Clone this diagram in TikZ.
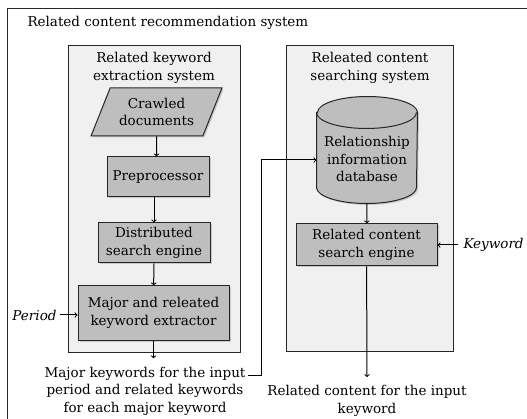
\documentclass[tikz,border=0pt]{standalone}
\usepackage{fontspec}
\setmainfont{DejaVu Serif}
\usetikzlibrary{positioning,shapes.geometric,shadows}
\definecolor{panelgray}{HTML}{F0F0F0}
\definecolor{boxgray}{HTML}{BEBEBE}
\begin{document}
\begin{tikzpicture}[x=1pt,y=-1pt,font=\fontsize{13.5}{17.5}\selectfont,
  panel/.style={draw=black!85,fill=panelgray},
  box/.style={draw=black!85,fill=boxgray,align=center,inner sep=2pt,
    drop shadow={shadow xshift=1.5pt,shadow yshift=-1.5pt,opacity=0.35}},
  label/.style={align=center,inner sep=0pt},
  every path/.style={line width=1pt}]
  \useasboundingbox (0,0) rectangle (527,419);
  \draw[black!85] (527,9) -- (7,9) -- (7,419);
  \node[anchor=west,inner sep=0pt](title) at (27,23){Related content recommendation system};

  \node[panel,minimum width=172pt,minimum height=306pt](kwsys) at (154,199){};
  \node[label](kwtitle) at (154,68){Related keyword\\extraction system};
  \node[box,trapezium,trapezium left angle=63,trapezium right angle=117,trapezium stretches=true,
    minimum width=131pt,minimum height=48pt](crawled) at (156.5,112){Crawled\\documents};
  \node[box,minimum width=102pt,minimum height=40pt](prep) at (158,177){Preprocessor};
  \node[box,minimum width=112pt,minimum height=40pt](dist) at (154,243){Distributed\\search engine};
  \node[box,minimum width=151pt,minimum height=54pt](extr) at (153.5,313){Major and releated\\keyword extractor};
  \node[label,anchor=east](period) at (57,315){\itshape Period};
  \node[label](kwout) at (145,391){Major keywords for the input\\period and related keywords\\for each major keyword};

  \node[panel,minimum width=167pt,minimum height=305pt](rcsys) at (369.5,198.5){};
  \node[label](rctitle) at (370,68){Releated content\\searching system};
  \node[minimum width=100pt,minimum height=106pt,inner sep=0pt](db) at (367,150){};
  \path[box]([yshift=-16pt]db.north west)--([yshift=16pt]db.south west)
    arc[start angle=180,end angle=360,x radius=50pt,y radius=16pt]--([yshift=-16pt]db.north east)
    arc[start angle=0,end angle=180,x radius=50pt,y radius=16pt]--cycle;
  \draw[black!85]([yshift=-16pt]db.north west) arc[start angle=180,end angle=360,x radius=50pt,y radius=16pt];
  \node[label](dbtext) at (367,159){Relationship\\information\\database};
  \node[box,minimum width=141pt,minimum height=42pt](seng) at (366.5,245){Related content\\search engine};
  \node[label,anchor=west](keyword) at (463,245){\itshape Keyword};
  \node[label](rcout) at (367,401){Related content for the input\\keyword};

  \draw[->](crawled)--(prep.north -| crawled);
  \draw[->](prep.south -| dist)--(dist);
  \draw[->](dist)--(extr);
  \draw[->]([xshift=3pt]period.east)--(extr.west |- period);
  \draw[->](extr)--([yshift=8pt]extr |- kwout.north);
  \draw[->]([xshift=2pt,yshift=-9pt]kwout.north east)--++(14,0)|-([yshift=-10pt]db.west);
  \draw[->](db.south)--(seng);
  \draw[->]([xshift=-5pt]keyword.west)--(seng.east);
  \draw[->](seng)--([yshift=8pt]rcout.north);
\end{tikzpicture}
\end{document}
